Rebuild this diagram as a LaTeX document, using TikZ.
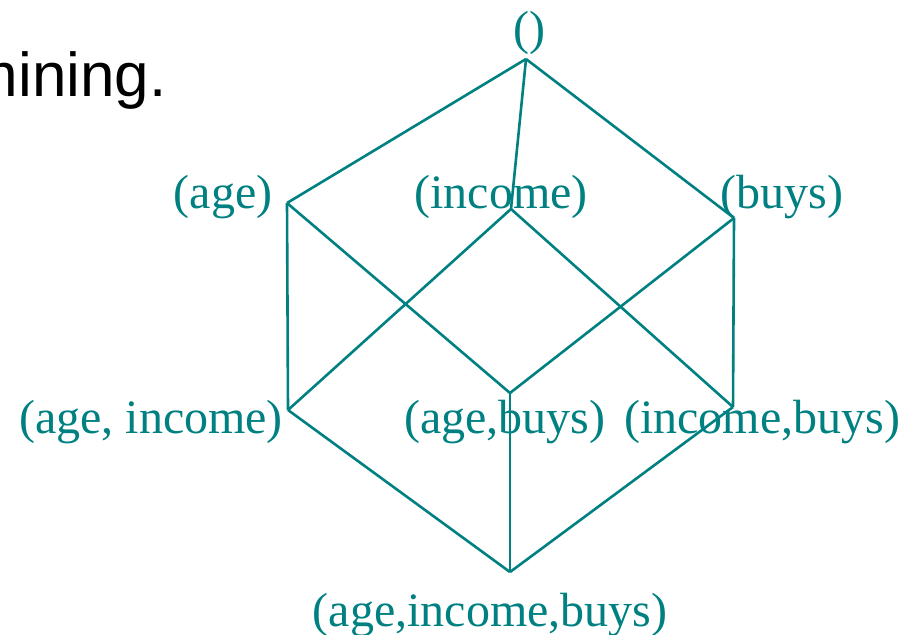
\documentclass[tikz,border=0pt]{standalone}
\usepackage{fontspec}
\setmainfont{Liberation Serif}
\newfontfamily\slidefont{Liberation Sans}
\definecolor{cubeteal}{RGB}{0,128,128}

\begin{document}
\begin{tikzpicture}[
  x=0.5pt, y=-0.5pt,
  lbl/.style={text=cubeteal, font=\fontsize{24}{28}\selectfont, inner sep=0pt, anchor=base},
  edge/.style={draw=cubeteal, line width=1.3pt, line join=miter}
]
  \useasboundingbox (0,0) rectangle (913,634);
  \clip (0,0) rectangle (913,634);
  \node[anchor=base east, inner sep=0pt, font=\slidefont\fontsize{31}{36}\selectfont] (title) at (167,96) {mining.};
  % lattice vertices
  \coordinate (v0) at (526,59);
  \coordinate (va) at (287,203);
  \coordinate (vi) at (511,209);
  \coordinate (vb) at (734,218);
  \coordinate (vai) at (288,410);
  \coordinate (vab) at (510,393);
  \coordinate (vib) at (733,407);
  \coordinate (vaib) at (510,572);
  % labels
  \node[lbl] (l0) at (529,44) {()};
  \node[lbl] (la) at (223,208) {(age)};
  \node[lbl] (li) at (501,208) {(income)};
  \node[lbl] (lb) at (782,208) {(buys)};
  \node[lbl] (lai) at (151,433) {(age, income)};
  \node[lbl] (lab) at (505,433) {(age,buys)};
  \node[lbl] (lib) at (762,433) {(income,buys)};
  \node[lbl] (laib) at (490,626) {(age,income,buys)};
  % edges
  \draw[edge] (v0) -- (va);
  \draw[edge] (v0) -- (vi);
  \draw[edge] (v0) -- (vb);
  \draw[edge] (va) -- (vai);
  \draw[edge] (va) -- (vab);
  \draw[edge] (vi) -- (vai);
  \draw[edge] (vi) -- (vib);
  \draw[edge] (vb) -- (vab);
  \draw[edge] (vb) -- (vib);
  \draw[edge] (vai) -- (vaib);
  \draw[edge] (vab) -- (vaib);
  \draw[edge] (vib) -- (vaib);
\end{tikzpicture}
\end{document}
